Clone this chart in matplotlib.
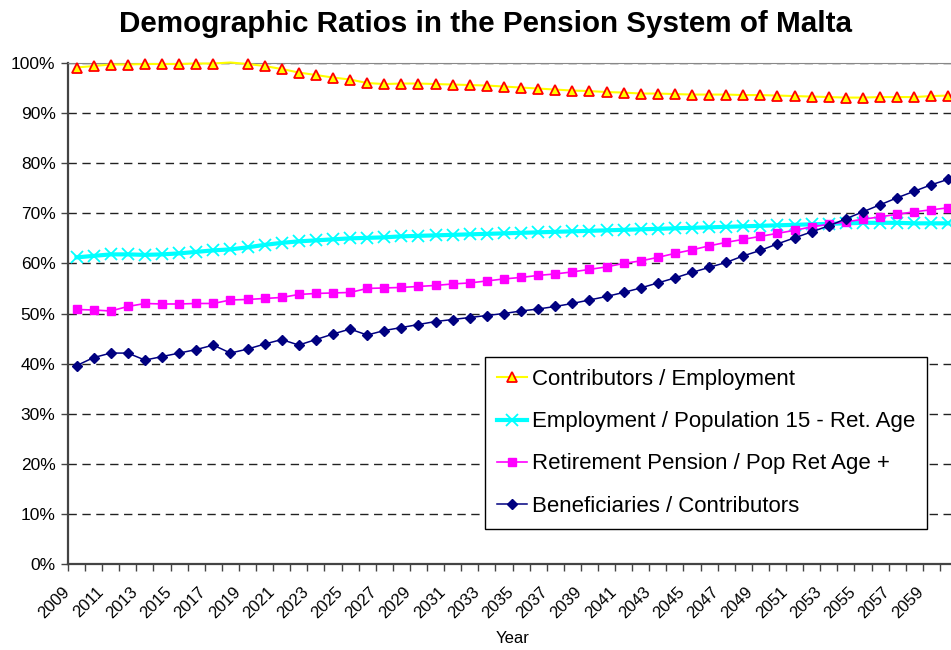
import matplotlib.pyplot as plt
import matplotlib.transforms as mtransforms
from matplotlib.ticker import FixedLocator, PercentFormatter

plt.rcParams['font.family'] = ['Liberation Sans', 'DejaVu Sans']

years = list(range(2009, 2061))

# Ratios in percent, one value per year
contrib_employment = [
    99.1, 99.4, 99.7, 99.7, 99.8, 99.8, 99.8, 99.9, 99.9, 100.1,
    99.8, 99.4, 98.8, 98.1, 97.6, 97.1, 96.7, 96.0, 95.8, 95.9,
    95.9, 95.8, 95.7, 95.6, 95.5, 95.3, 95.1, 94.9, 94.7, 94.5,
    94.4, 94.2, 94.1, 93.9, 93.9, 93.8, 93.7, 93.7, 93.7, 93.6,
    93.6, 93.5, 93.4, 93.3, 93.2, 93.1, 93.1, 93.2, 93.2, 93.2,
    93.4, 93.5,
]
employment_pop = [
    61.2, 61.5, 61.8, 61.8, 61.7, 61.8, 62.0, 62.3, 62.6, 62.8,
    63.2, 63.7, 64.1, 64.4, 64.6, 64.8, 65.0, 65.1, 65.2, 65.4,
    65.5, 65.6, 65.7, 65.8, 65.9, 66.0, 66.1, 66.2, 66.3, 66.4,
    66.5, 66.6, 66.7, 66.8, 66.9, 67.0, 67.1, 67.2, 67.3, 67.4,
    67.5, 67.6, 67.7, 67.8, 67.9, 68.0, 68.1, 68.1, 68.1, 68.0,
    68.0, 68.0,
]
pension_pop = [
    50.8, 50.7, 50.5, 51.4, 52.0, 51.9, 51.9, 52.0, 52.0, 52.7,
    52.8, 53.0, 53.2, 53.8, 54.0, 54.1, 54.2, 55.0, 55.1, 55.2,
    55.4, 55.6, 55.9, 56.1, 56.5, 56.9, 57.2, 57.6, 57.9, 58.3,
    58.8, 59.3, 60.0, 60.5, 61.2, 62.0, 62.7, 63.5, 64.2, 64.8,
    65.4, 66.0, 66.6, 67.3, 67.8, 68.3, 68.8, 69.3, 69.8, 70.3,
    70.7, 71.1,
]
benef_contrib = [
    39.6, 41.2, 42.1, 42.1, 40.7, 41.4, 42.1, 42.8, 43.7, 42.1,
    42.9, 43.9, 44.8, 43.7, 44.8, 45.9, 46.9, 45.7, 46.6, 47.2,
    47.8, 48.4, 48.8, 49.2, 49.6, 50.0, 50.5, 50.9, 51.4, 52.0,
    52.7, 53.4, 54.2, 55.1, 56.1, 57.1, 58.2, 59.2, 60.2, 61.5,
    62.6, 63.9, 65.1, 66.3, 67.5, 68.9, 70.3, 71.7, 73.1, 74.4,
    75.7, 76.8,
]

labels = [
    'Contributors / Employment',
    'Employment / Population 15 - Ret. Age',
    'Retirement Pension / Pop Ret Age +',
    'Beneficiaries / Contributors',
]

W, H = 951, 650
fig = plt.figure(figsize=(W / 100, H / 100), dpi=100)
ax = fig.add_axes([68 / W, (H - 564) / H, 889 / W, (564 - 63) / H])

# the point above 100% has no marker
shown = [i for i, v in enumerate(contrib_employment) if v <= 100]
ax.plot(years, contrib_employment, color='#FFFF00', lw=1.5, marker='^', ms=7,
        mfc='#FFFF00', mec='#FF0000', mew=1.3, markevery=shown, label=labels[0],
        clip_on=False, zorder=3)
ax.plot(years, employment_pop, color='#00FFFF', lw=3, marker='x', ms=9,
        mec='#00FFFF', mew=1.3, label=labels[1], zorder=3)
ax.plot(years, pension_pop, color='#FF00FF', lw=1.2, marker='s', ms=6,
        mfc='#FF00FF', mec='#FF00FF', label=labels[2], zorder=3)
ax.plot(years, benef_contrib, color='#000080', lw=1.1, marker='D', ms=4.6,
        mfc='#000080', mec='#000080', label=labels[3], zorder=3)

ax.set_xlim(2008.5, 2060.5)
ax.set_ylim(0, 100)

ax.yaxis.set_major_locator(FixedLocator(range(0, 101, 10)))
ax.yaxis.set_major_formatter(PercentFormatter(decimals=0))
ax.grid(axis='y', color='#222222', ls=(0, (6, 4)), lw=1)
ax.set_axisbelow(True)

ax.set_xticks(years[::2])
ax.set_xticklabels([str(y) for y in years[::2]], rotation=45, ha='right',
                   rotation_mode='anchor', fontsize=12)
ax.set_xticks([y - 0.5 for y in years], minor=True)
ax.tick_params(axis='x', which='major', length=0, pad=6)
ax.tick_params(axis='x', which='minor', length=5, width=1, color='#444444')
ax.tick_params(axis='y', length=5, width=1, color='#444444', labelsize=12.5, pad=4)

# year labels sit a little left of and below their category
shift = mtransforms.ScaledTranslation(-0.15, -0.12, fig.dpi_scale_trans)
for lbl in ax.get_xticklabels():
    lbl.set_transform(lbl.get_transform() + shift)

for side in ('left', 'bottom'):
    ax.spines[side].set_color('#444444')
    ax.spines[side].set_linewidth(1.6)
ax.spines['top'].set_color('#888888')
ax.spines['right'].set_visible(False)

ax.set_xlabel('Year', fontsize=12, labelpad=7)
fig.text(485 / W, 1 - 32 / H, 'Demographic Ratios in the Pension System of Malta',
         ha='center', va='baseline', fontsize=21.3, fontweight='bold')

leg = ax.legend(loc='upper left', bbox_to_anchor=(485 / W, 1 - 357 / H),
                bbox_transform=fig.transFigure, borderaxespad=0, fontsize=16,
                frameon=True, fancybox=False, edgecolor='black', framealpha=1,
                handlelength=1.35, handletextpad=0.2, labelspacing=0.95,
                borderpad=0.55)
leg.get_frame().set_linewidth(1)

fig.savefig('out.png', dpi=100)
